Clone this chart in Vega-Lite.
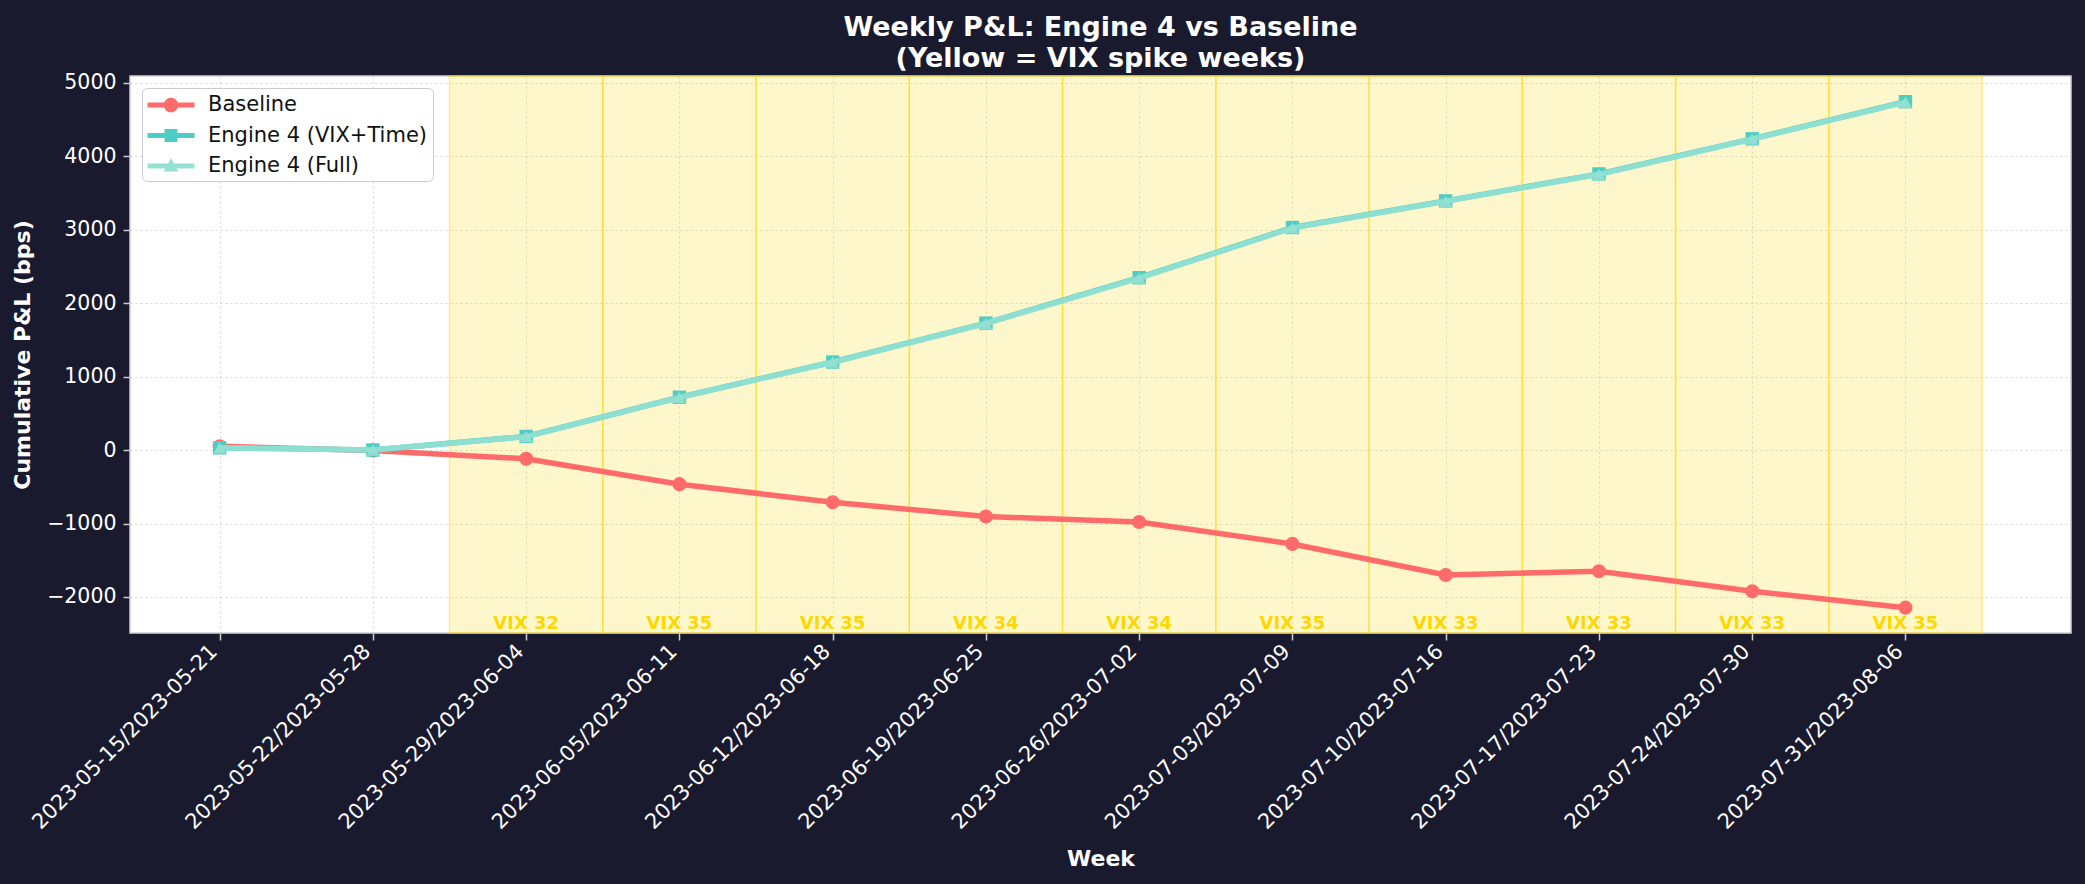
{
  "$schema": "https://vega.github.io/schema/vega-lite/v6.json",
  "width": 1941,
  "height": 557,
  "autosize": {"type": "none"},
  "padding": {"left": 130, "top": 76, "right": 14, "bottom": 251},
  "background": "#1a1a2e",
  "view": {"fill": "#ffffff", "stroke": "#d0d0d0", "strokeWidth": 1.5},
  "config": {
    "font": "DejaVu Sans",
    "axis": {
      "domain": false,
      "grid": true,
      "gridColor": "#b0b0b0",
      "gridOpacity": 0.5,
      "gridDash": [2, 3],
      "gridWidth": 1,
      "tickColor": "#cccccc",
      "tickSize": 7,
      "tickWidth": 1.5,
      "labelColor": "#ffffff",
      "labelFont": "DejaVu Sans",
      "labelLimit": 0,
      "titleColor": "#ffffff",
      "titleFont": "DejaVu Sans",
      "titleFontSize": 22,
      "titleFontWeight": "bold"
    }
  },
  "title": {
    "text": ["Weekly P&L: Engine 4 vs Baseline", "(Yellow = VIX spike weeks)"],
    "color": "#ffffff",
    "font": "DejaVu Sans",
    "fontSize": 27,
    "fontWeight": "bold",
    "anchor": "middle",
    "lineHeight": 31,
    "offset": 0
  },
  "datasets": {
    "pnl": [
      {"i": 0, "week": "2023-05-15/2023-05-21", "series": "Baseline", "pnl": 50},
      {"i": 1, "week": "2023-05-22/2023-05-28", "series": "Baseline", "pnl": -5},
      {"i": 2, "week": "2023-05-29/2023-06-04", "series": "Baseline", "pnl": -120},
      {"i": 3, "week": "2023-06-05/2023-06-11", "series": "Baseline", "pnl": -465},
      {"i": 4, "week": "2023-06-12/2023-06-18", "series": "Baseline", "pnl": -710},
      {"i": 5, "week": "2023-06-19/2023-06-25", "series": "Baseline", "pnl": -905},
      {"i": 6, "week": "2023-06-26/2023-07-02", "series": "Baseline", "pnl": -980},
      {"i": 7, "week": "2023-07-03/2023-07-09", "series": "Baseline", "pnl": -1278},
      {"i": 8, "week": "2023-07-10/2023-07-16", "series": "Baseline", "pnl": -1700},
      {"i": 9, "week": "2023-07-17/2023-07-23", "series": "Baseline", "pnl": -1650},
      {"i": 10, "week": "2023-07-24/2023-07-30", "series": "Baseline", "pnl": -1923},
      {"i": 11, "week": "2023-07-31/2023-08-06", "series": "Baseline", "pnl": -2145},
      {"i": 0, "week": "2023-05-15/2023-05-21", "series": "Engine 4 (VIX+Time)", "pnl": 30},
      {"i": 1, "week": "2023-05-22/2023-05-28", "series": "Engine 4 (VIX+Time)", "pnl": 0},
      {"i": 2, "week": "2023-05-29/2023-06-04", "series": "Engine 4 (VIX+Time)", "pnl": 185},
      {"i": 3, "week": "2023-06-05/2023-06-11", "series": "Engine 4 (VIX+Time)", "pnl": 718},
      {"i": 4, "week": "2023-06-12/2023-06-18", "series": "Engine 4 (VIX+Time)", "pnl": 1198},
      {"i": 5, "week": "2023-06-19/2023-06-25", "series": "Engine 4 (VIX+Time)", "pnl": 1727},
      {"i": 6, "week": "2023-06-26/2023-07-02", "series": "Engine 4 (VIX+Time)", "pnl": 2345},
      {"i": 7, "week": "2023-07-03/2023-07-09", "series": "Engine 4 (VIX+Time)", "pnl": 3028},
      {"i": 8, "week": "2023-07-10/2023-07-16", "series": "Engine 4 (VIX+Time)", "pnl": 3390},
      {"i": 9, "week": "2023-07-17/2023-07-23", "series": "Engine 4 (VIX+Time)", "pnl": 3757},
      {"i": 10, "week": "2023-07-24/2023-07-30", "series": "Engine 4 (VIX+Time)", "pnl": 4235},
      {"i": 11, "week": "2023-07-31/2023-08-06", "series": "Engine 4 (VIX+Time)", "pnl": 4740},
      {"i": 0, "week": "2023-05-15/2023-05-21", "series": "Engine 4 (Full)", "pnl": 30},
      {"i": 1, "week": "2023-05-22/2023-05-28", "series": "Engine 4 (Full)", "pnl": 0},
      {"i": 2, "week": "2023-05-29/2023-06-04", "series": "Engine 4 (Full)", "pnl": 182},
      {"i": 3, "week": "2023-06-05/2023-06-11", "series": "Engine 4 (Full)", "pnl": 715},
      {"i": 4, "week": "2023-06-12/2023-06-18", "series": "Engine 4 (Full)", "pnl": 1195},
      {"i": 5, "week": "2023-06-19/2023-06-25", "series": "Engine 4 (Full)", "pnl": 1722},
      {"i": 6, "week": "2023-06-26/2023-07-02", "series": "Engine 4 (Full)", "pnl": 2340},
      {"i": 7, "week": "2023-07-03/2023-07-09", "series": "Engine 4 (Full)", "pnl": 3022},
      {"i": 8, "week": "2023-07-10/2023-07-16", "series": "Engine 4 (Full)", "pnl": 3385},
      {"i": 9, "week": "2023-07-17/2023-07-23", "series": "Engine 4 (Full)", "pnl": 3752},
      {"i": 10, "week": "2023-07-24/2023-07-30", "series": "Engine 4 (Full)", "pnl": 4230},
      {"i": 11, "week": "2023-07-31/2023-08-06", "series": "Engine 4 (Full)", "pnl": 4735}
    ],
    "spikes": [
      {"i": 2, "start": 1.5, "end": 2.5, "label": "VIX 32"},
      {"i": 3, "start": 2.5, "end": 3.5, "label": "VIX 35"},
      {"i": 4, "start": 3.5, "end": 4.5, "label": "VIX 35"},
      {"i": 5, "start": 4.5, "end": 5.5, "label": "VIX 34"},
      {"i": 6, "start": 5.5, "end": 6.5, "label": "VIX 34"},
      {"i": 7, "start": 6.5, "end": 7.5, "label": "VIX 35"},
      {"i": 8, "start": 7.5, "end": 8.5, "label": "VIX 33"},
      {"i": 9, "start": 8.5, "end": 9.5, "label": "VIX 33"},
      {"i": 10, "start": 9.5, "end": 10.5, "label": "VIX 33"},
      {"i": 11, "start": 10.5, "end": 11.5, "label": "VIX 35"}
    ]
  },
  "encoding": {
    "x": {
      "field": "i",
      "type": "quantitative",
      "scale": {"domain": [-0.585, 12.08], "nice": false, "zero": false},
      "axis": {
        "title": "Week",
        "values": [0, 1, 2, 3, 4, 5, 6, 7, 8, 9, 10, 11],
        "labelExpr": "['2023-05-15/2023-05-21','2023-05-22/2023-05-28','2023-05-29/2023-06-04','2023-06-05/2023-06-11','2023-06-12/2023-06-18','2023-06-19/2023-06-25','2023-06-26/2023-07-02','2023-07-03/2023-07-09','2023-07-10/2023-07-16','2023-07-17/2023-07-23','2023-07-24/2023-07-30','2023-07-31/2023-08-06'][datum.value]",
        "labelFontSize": 21,
        "labelAngle": -45,
        "labelAlign": "right",
        "labelBaseline": "middle",
        "labelOffset": -6,
        "labelPadding": 8,
        "labelOverlap": false,
        "labelFlush": false,
        "labelBound": false,
        "labelLimit": 0,
        "titlePadding": 16
      }
    }
  },
  "layer": [
    {
      "data": {"name": "spikes"},
      "mark": {"type": "rect", "fill": "#FFD700", "fillOpacity": 0.2, "stroke": "#FFD700", "strokeOpacity": 0.45, "strokeWidth": 1.5},
      "encoding": {
        "x": {"field": "start", "type": "quantitative"},
        "x2": {"field": "end"}
      }
    },
    {
      "data": {"name": "pnl"},
      "encoding": {
        "y": {
          "field": "pnl",
          "type": "quantitative",
          "scale": {"domain": [-2490, 5090], "nice": false, "zero": false},
          "axis": {
            "title": "Cumulative P&L (bps)",
            "values": [-2000, -1000, 0, 1000, 2000, 3000, 4000, 5000],
            "format": "d",
            "labelFontSize": 20.5,
            "labelPadding": 7,
            "titlePadding": 12
          }
        },
        "color": {
          "field": "series",
          "type": "nominal",
          "scale": {
            "domain": ["Baseline", "Engine 4 (VIX+Time)", "Engine 4 (Full)"],
            "range": ["#FF6B6B", "#4ECDC4", "#95E1D3"]
          },
          "legend": {
            "title": null,
            "orient": "none",
            "legendX": 12,
            "legendY": 12,
            "fillColor": "#ffffff",
            "strokeColor": "#cccccc",
            "cornerRadius": 5,
            "padding": 5,
            "labelFont": "DejaVu Sans",
            "labelFontSize": 21,
            "labelColor": "#111111",
            "labelLimit": 0,
            "symbolSize": 552,
            "symbolOffset": 12,
            "labelOffset": 25,
            "rowPadding": 8.5,
            "encoding": {
              "symbols": {
                "shape": {"value": {"expr": "datum.value === 'Baseline' ? 'M-2,-0.21H2V0.21H-2Z M-0.62,0A0.62,0.62 0 1,1 0.62,0A0.62,0.62 0 1,1 -0.62,0Z' : datum.value === 'Engine 4 (VIX+Time)' ? 'M-2,-0.21H2V0.21H-2Z M-0.55,-0.55H0.55V0.55H-0.55Z' : 'M-2,-0.21H2V0.21H-2Z M0,-0.66L0.62,0.46H-0.62Z'"}},
                "fill": {"value": {"expr": "scale('color', datum.value)"}},
                "fillOpacity": {"value": 1},
                "opacity": {"value": 1},
                "strokeWidth": {"value": 0}
              }
            }
          }
        }
      },
      "layer": [
        {
          "transform": [{"filter": "datum.series === 'Baseline'"}],
          "layer": [
            {"mark": {"type": "line", "strokeWidth": 5.5}},
            {"mark": {"type": "point", "shape": "circle", "filled": true, "size": 200, "opacity": 1}}
          ]
        },
        {
          "transform": [{"filter": "datum.series === 'Engine 4 (VIX+Time)'"}],
          "layer": [
            {"mark": {"type": "line", "strokeWidth": 5.5}},
            {"mark": {"type": "point", "shape": "square", "filled": true, "size": 180, "opacity": 1}}
          ]
        },
        {
          "transform": [{"filter": "datum.series === 'Engine 4 (Full)'"}],
          "layer": [
            {"mark": {"type": "line", "strokeWidth": 5.5, "opacity": 0.9}},
            {"mark": {"type": "point", "shape": "triangle-up", "filled": true, "size": 170, "opacity": 0.9}}
          ]
        }
      ]
    },
    {
      "data": {"name": "spikes"},
      "mark": {"type": "text", "color": "#FFD700", "fontWeight": "bold", "fontSize": 18, "font": "DejaVu Sans", "baseline": "alphabetic", "align": "center"},
      "encoding": {
        "x": {"field": "i", "type": "quantitative"},
        "y": {"datum": -2435, "type": "quantitative", "scale": {"domain": [-2490, 5090], "nice": false, "zero": false}},
        "text": {"field": "label", "type": "nominal"}
      }
    }
  ]
}
